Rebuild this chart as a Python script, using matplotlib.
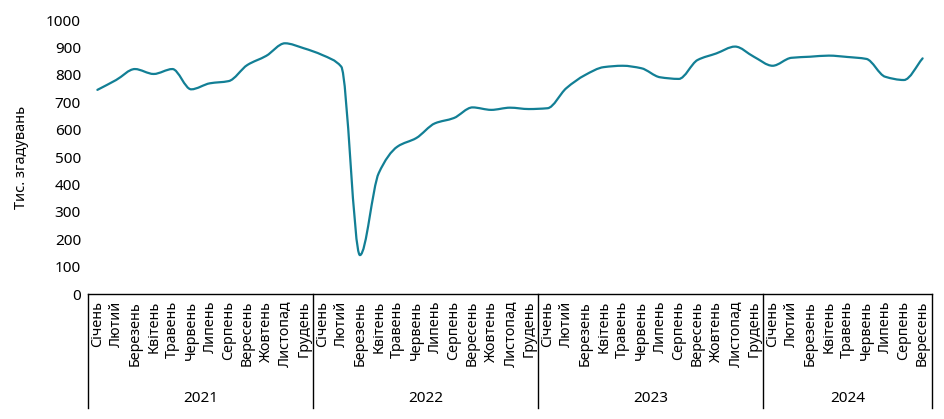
import numpy as np
import matplotlib
matplotlib.use("Agg")
import matplotlib.pyplot as plt
from matplotlib.path import Path
from matplotlib.patches import PathPatch

months = ["Січень", "Лютий", "Березень", "Квітень", "Травень", "Червень",
          "Липень", "Серпень", "Вересень", "Жовтень", "Листопад", "Грудень"]
years = ["2021", "2022", "2023", "2024"]
months_per_year = [12, 12, 12, 9]

v2021 = [745, 781, 821, 803, 821, 747, 769, 777, 836, 869, 915, 897]
v2022 = [872, 830, 142, 441, 538, 569, 623, 642, 681, 672, 680, 675]
v2023 = [678, 751, 799, 828, 833, 824, 791, 785, 854, 878, 903, 866]
v2024 = [833, 862, 866, 870, 865, 858, 793, 781, 860]
values = v2021 + v2022 + v2023 + v2024

line_color = "#127f95"
plt.rcParams["font.family"] = ["Noto Sans", "DejaVu Sans"]

fig = plt.figure(figsize=(9.45, 4.19), dpi=100)
ax = fig.add_axes([88 / 945, 125 / 419, 844 / 945, 274 / 419])

x = np.arange(len(values)) + 0.5
y = np.array(values, dtype=float)

# smooth line: monotone cubic (Fritsch-Carlson) as Bezier segments
d = np.diff(y)
m = np.zeros_like(y)
m[0], m[-1] = d[0], d[-1]
for i in range(1, len(y) - 1):
    if d[i - 1] * d[i] > 0:
        m[i] = 2 * d[i - 1] * d[i] / (d[i - 1] + d[i])
verts = [(x[0], y[0])]
codes = [Path.MOVETO]
for i in range(len(x) - 1):
    h = x[i + 1] - x[i]
    verts += [(x[i] + h / 3, y[i] + m[i] / 3),
              (x[i + 1] - h / 3, y[i + 1] - m[i + 1] / 3),
              (x[i + 1], y[i + 1])]
    codes += [Path.CURVE4] * 3
ax.add_patch(PathPatch(Path(verts, codes), facecolor="none",
                       edgecolor=line_color, lw=1.6, capstyle="round"))

ax.set_xlim(0, len(values))
ax.set_ylim(0, 1000)
ax.set_yticks(np.arange(0, 1001, 100))
ax.tick_params(axis="y", length=0, pad=5, labelsize=11)

labels = []
for cnt in months_per_year:
    labels += months[:cnt]
ax.set_xticks(x)
ax.set_xticklabels(labels, rotation=90, fontsize=10.3)
ax.tick_params(axis="x", length=0, pad=5)

for side in ["left", "right", "top"]:
    ax.spines[side].set_visible(False)
ax.spines["bottom"].set_color("black")
ax.spines["bottom"].set_linewidth(1)

ax.set_ylabel("Тис. згадувань", fontsize=10.5, labelpad=12)

trans = ax.get_xaxis_transform()
bounds = [0]
for cnt in months_per_year:
    bounds.append(bounds[-1] + cnt)
for b in bounds:
    ax.plot([b, b], [0, -0.416], color="black", lw=1, transform=trans,
            clip_on=False)
for i, yr in enumerate(years):
    mid = (bounds[i] + bounds[i + 1]) / 2
    ax.text(mid, -0.38, yr, transform=trans, ha="center", va="center",
            fontsize=11)

fig.savefig("out.png", dpi=100)
